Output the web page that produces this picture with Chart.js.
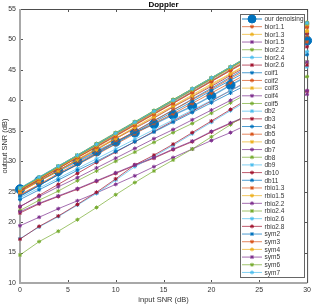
<!DOCTYPE html>
<html>
<head>
<meta charset="utf-8">
<script src="https://cdn.jsdelivr.net/npm/chart.js@4.4.1/dist/chart.umd.min.js"></script>
<style>
  body { margin: 0; background: #ffffff; }
</style>
</head>
<body>
<canvas id="myChart" width="314" height="304"></canvas>
<script>
// valores (SNR de entrada en dB)
const snrEntrada = [0, 2, 4, 6, 8, 10, 12, 14, 16, 18, 20, 22, 24, 26, 28, 30];

const nombres = ["our denoising", "bior1.1", "bior1.3", "bior1.5", "bior2.2", "bior2.4", "bior2.6",
  "coif1", "coif2", "coif3", "coif4", "coif5", "db2", "db3", "db4", "db5", "db6", "db7", "db8",
  "db9", "db10", "db11", "rbio1.3", "rbio1.5", "rbio2.2", "rbio2.4", "rbio2.6", "rbio2.8",
  "sym2", "sym3", "sym4", "sym5", "sym6", "sym7"];

const ourDenoising = [25.4, 26.8, 28.4, 30.0, 31.6, 33.2, 34.7, 36.1, 37.6, 39.0, 40.7, 42.5, 44.2, 46.0, 47.9, 49.8];
const bior11 = [24.4, 26.1, 27.8, 29.4, 31.1, 32.8, 34.5, 36.2, 37.8, 39.5, 41.2, 42.9, 44.6, 46.2, 47.9, 49.6];
const bior13 = [25.0, 26.8, 28.5, 30.3, 32.1, 33.8, 35.6, 37.4, 39.1, 40.9, 42.7, 44.4, 46.2, 48.0, 49.7, 51.5];
const bior15 = [25.2, 27.0, 28.8, 30.6, 32.4, 34.2, 36.0, 37.8, 39.5, 41.3, 43.1, 44.9, 46.7, 48.5, 50.3, 52.1];
const bior22 = [21.9, 23.6, 25.1, 26.8, 28.4, 30.0, 31.5, 33.1, 34.7, 36.2, 37.9, 39.6, 41.3, 42.9, 44.6, 46.3];
const bior24 = [25.3, 27.1, 28.9, 30.7, 32.5, 34.3, 36.1, 37.9, 39.7, 41.5, 43.3, 45.1, 46.9, 48.7, 50.5, 52.3];
const bior26 = [22.5, 24.4, 26.2, 28.0, 29.8, 31.5, 33.2, 34.9, 36.6, 38.2, 39.9, 41.6, 43.3, 45.1, 46.9, 48.8];
const coif1 = [24.2, 26.0, 27.8, 29.5, 31.3, 33.1, 34.9, 36.7, 38.4, 40.2, 42.0, 43.8, 45.6, 47.3, 49.1, 50.9];
const coif2 = [25.4, 27.2, 29.0, 30.8, 32.6, 34.4, 36.2, 38.0, 39.9, 41.7, 43.5, 45.3, 47.1, 48.9, 50.7, 52.5];
const coif3 = [25.5, 27.3, 29.1, 31.0, 32.8, 34.6, 36.4, 38.2, 40.1, 41.9, 43.7, 45.5, 47.3, 49.2, 51.0, 52.8];
const coif4 = [25.5, 27.3, 29.1, 30.9, 32.8, 34.6, 36.4, 38.2, 40.0, 41.8, 43.6, 45.4, 47.3, 49.1, 50.9, 52.7];
const coif5 = [25.6, 27.4, 29.2, 31.0, 32.9, 34.7, 36.5, 38.3, 40.1, 41.9, 43.7, 45.5, 47.4, 49.2, 51.0, 52.8];
const db2 = [24.0, 25.6, 27.2, 28.8, 30.4, 32.0, 33.6, 35.2, 36.8, 38.4, 40.0, 41.6, 43.2, 44.8, 46.4, 48.0];
const db3 = [21.5, 23.0, 24.2, 25.4, 26.7, 28.0, 29.3, 30.5, 31.9, 33.2, 34.8, 36.2, 37.5, 38.9, 40.2, 41.5];
const db4 = [23.7, 25.3, 26.9, 28.5, 30.0, 31.6, 33.2, 34.8, 36.4, 38.0, 39.6, 41.2, 42.8, 44.3, 45.9, 47.5];
const db5 = [25.2, 27.0, 28.8, 30.6, 32.4, 34.2, 36.0, 37.8, 39.6, 41.4, 43.2, 45.0, 46.8, 48.6, 50.4, 52.2];
const db6 = [25.4, 27.2, 29.0, 30.8, 32.7, 34.5, 36.3, 38.1, 39.9, 41.7, 43.5, 45.3, 47.1, 48.9, 50.7, 52.4];
const db7 = [22.6, 24.2, 25.8, 27.3, 28.9, 30.5, 32.1, 33.7, 35.2, 36.8, 38.4, 40.0, 41.6, 43.1, 44.7, 46.3];
const db8 = [25.5, 27.3, 29.2, 31.0, 32.8, 34.6, 36.4, 38.3, 40.1, 41.9, 43.7, 45.5, 47.3, 49.1, 50.9, 52.6];
const db9 = [25.5, 27.3, 29.1, 30.9, 32.7, 34.5, 36.4, 38.2, 40.0, 41.8, 43.6, 45.4, 47.2, 49.0, 50.8, 52.6];
const db10 = [25.0, 26.7, 28.5, 30.2, 31.9, 33.7, 35.4, 37.1, 38.9, 40.6, 42.3, 44.1, 45.8, 47.5, 49.3, 51.0];
const db11 = [25.5, 27.3, 29.1, 30.9, 32.7, 34.5, 36.3, 38.1, 39.9, 41.7, 43.5, 45.4, 47.2, 49.0, 50.8, 52.6];
const rbio13 = [24.5, 26.2, 28.0, 29.7, 31.4, 33.2, 34.9, 36.6, 38.4, 40.1, 41.8, 43.6, 45.3, 47.0, 48.8, 50.5];
const rbio15 = [24.9, 26.7, 28.4, 30.2, 31.9, 33.7, 35.5, 37.2, 39.0, 40.7, 42.5, 44.3, 46.0, 47.8, 49.5, 51.3];
const rbio22 = [19.4, 20.8, 22.2, 23.5, 24.8, 26.2, 27.6, 29.1, 30.6, 32.0, 33.4, 34.7, 36.2, 37.8, 39.4, 41.0];
const rbio24 = [14.6, 16.8, 18.5, 20.4, 22.4, 24.5, 26.5, 28.4, 30.2, 32.0, 34.0, 36.0, 38.0, 40.0, 42.0, 43.9];
const rbio26 = [17.3, 19.2, 20.9, 22.8, 24.7, 26.9, 29.1, 30.8, 32.6, 34.5, 36.4, 38.3, 40.1, 41.9, 43.7, 45.5];
const rbio28 = [17.2, 19.3, 21.0, 22.9, 24.9, 27.1, 29.4, 31.0, 32.8, 34.7, 36.6, 38.5, 40.4, 42.3, 44.1, 45.8];
const sym2 = [24.3, 26.0, 27.8, 29.5, 31.2, 32.9, 34.7, 36.4, 38.1, 39.8, 41.6, 43.3, 45.0, 46.7, 48.5, 50.2];
const sym3 = [25.2, 27.0, 28.8, 30.6, 32.3, 34.1, 35.9, 37.7, 39.5, 41.3, 43.1, 44.9, 46.6, 48.4, 50.2, 52.0];
const sym4 = [25.4, 27.2, 29.0, 30.8, 32.6, 34.4, 36.2, 38.0, 39.9, 41.7, 43.5, 45.3, 47.1, 48.9, 50.7, 52.5];
const sym5 = [21.7, 23.1, 24.3, 25.5, 26.8, 28.1, 29.4, 30.6, 32.0, 33.3, 34.9, 36.3, 37.6, 39.0, 40.3, 41.6];
const sym6 = [25.5, 27.3, 29.1, 30.9, 32.7, 34.6, 36.4, 38.2, 40.0, 41.8, 43.6, 45.4, 47.2, 49.0, 50.8, 52.6];
const sym7 = [25.6, 27.4, 29.2, 31.0, 32.8, 34.6, 36.4, 38.2, 40.0, 41.9, 43.7, 45.5, 47.3, 49.1, 50.9, 52.7];

const series = [ourDenoising, bior11, bior13, bior15, bior22, bior24, bior26, coif1, coif2, coif3,
  coif4, coif5, db2, db3, db4, db5, db6, db7, db8, db9, db10, db11, rbio13, rbio15, rbio22,
  rbio24, rbio26, rbio28, sym2, sym3, sym4, sym5, sym6, sym7];

// colores por defecto de matlab
const colores = ["0,114,189", "217,83,25", "237,177,32", "126,47,142", "119,172,48", "77,190,238", "162,20,47"];

const fuente = "'Liberation Sans', Arial, sans-serif";
const colorTexto = "#333333";

const datasets = nombres.map((nombre, i) => {
  const rgb = colores[i % colores.length];
  const esNuestro = i === 0;
  return {
    label: nombre,
    data: series[i].map((valor, k) => ({ x: snrEntrada[k], y: valor })),
    borderColor: esNuestro ? `rgba(${rgb},0.6)` : `rgba(${rgb},0.7)`,
    backgroundColor: `rgb(${rgb})`,
    pointBorderColor: `rgb(${rgb})`,
    pointBackgroundColor: `rgb(${rgb})`,
    borderWidth: esNuestro ? 1.5 : 1,
    pointStyle: esNuestro ? "circle" : "star",
    pointRadius: esNuestro ? 4.5 : 2,
    pointBorderWidth: 1,
    tension: 0,
    clip: false,
    // como en matlab: las ultimas series quedan encima
    order: nombres.length - i
  };
});

//plugin que dibuja el marco, los ticks, el titulo y la leyenda
const marcoPlugin = {
  id: "marco",
  beforeDatasetsDraw(chart) {
    const ctx = chart.ctx;
    const a = chart.chartArea;
    const escalaX = chart.scales.x;
    const escalaY = chart.scales.y;
    ctx.save();
    ctx.strokeStyle = "#555555";
    ctx.lineWidth = 1;
    ctx.beginPath();
    escalaX.ticks.forEach((t) => {
      const px = Math.round(escalaX.getPixelForValue(t.value)) + 0.5;
      ctx.moveTo(px, a.bottom);
      ctx.lineTo(px, a.bottom - 3);
      ctx.moveTo(px, a.top);
      ctx.lineTo(px, a.top + 3);
    });
    escalaY.ticks.forEach((t) => {
      const py = Math.round(escalaY.getPixelForValue(t.value)) + 0.5;
      ctx.moveTo(a.left, py);
      ctx.lineTo(a.left + 3, py);
      ctx.moveTo(a.right, py);
      ctx.lineTo(a.right - 3, py);
    });
    ctx.stroke();
    ctx.strokeStyle = "#4d4d4d";
    ctx.beginPath();
    ctx.moveTo(a.left, a.top + 0.5);
    ctx.lineTo(a.right, a.top + 0.5);
    ctx.moveTo(a.right + 0.5, a.top);
    ctx.lineTo(a.right + 0.5, a.bottom);
    ctx.stroke();
    ctx.strokeStyle = "#a8a8a8";
    ctx.lineWidth = 2;
    ctx.beginPath();
    ctx.moveTo(a.left, a.top);
    ctx.lineTo(a.left, a.bottom);
    ctx.lineTo(a.right, a.bottom);
    ctx.stroke();
    ctx.restore();
  },
  afterDraw(chart) {
    const ctx = chart.ctx;
    const a = chart.chartArea;
    ctx.save();
    // titulo
    ctx.fillStyle = "#000000";
    ctx.font = `bold 8px ${fuente}`;
    ctx.textAlign = "center";
    ctx.textBaseline = "middle";
    ctx.fillText("Doppler", (a.left + a.right) / 2, 4.5);

    // leyenda
    const caja = { x: 240, y: 14, w: 64, h: 263 };
    ctx.fillStyle = "#ffffff";
    ctx.fillRect(caja.x, caja.y, caja.w, caja.h);
    ctx.strokeStyle = "#666666";
    ctx.lineWidth = 1;
    ctx.strokeRect(caja.x + 0.5, caja.y + 0.5, caja.w, caja.h);
    ctx.font = `6.5px ${fuente}`;
    ctx.textAlign = "left";
    chart.data.datasets.forEach((ds, i) => {
      const fy = 19 + i * 7.68;
      ctx.strokeStyle = ds.borderColor;
      ctx.lineWidth = ds.borderWidth;
      ctx.beginPath();
      ctx.moveTo(242, fy);
      ctx.lineTo(262, fy);
      ctx.stroke();
      ctx.strokeStyle = ds.pointBorderColor;
      ctx.fillStyle = ds.pointBackgroundColor;
      ctx.lineWidth = 1;
      Chart.helpers.drawPoint(ctx, { pointStyle: ds.pointStyle, radius: i === 0 ? 4 : 2, rotation: 0, borderWidth: 1 }, 252, fy);
      ctx.fillStyle = colorTexto;
      ctx.fillText(ds.label, 264.5, fy + 0.5);
    });
    ctx.restore();
  }
};

const config = {
  type: "line",
  data: { datasets },
  options: {
    responsive: false,
    animation: false,
    devicePixelRatio: 1,
    layout: { padding: { top: 9, right: 6, left: 0, bottom: 0 } },
    plugins: {
      legend: { display: false },
      title: { display: false },
      tooltip: { enabled: false }
    },
    scales: {
      x: {
        type: "linear",
        min: 0,
        max: 30,
        grid: { display: false, drawTicks: false },
        border: { display: false },
        ticks: { stepSize: 5, padding: 3, color: colorTexto, font: { family: fuente, size: 7 }, maxRotation: 0 },
        title: { display: true, text: "input SNR (dB)", color: colorTexto, font: { family: fuente, size: 7.5 }, padding: 0 },
        afterFit: (escala) => { escala.height = 21; }
      },
      y: {
        type: "linear",
        min: 10,
        max: 55,
        grid: { display: false, drawTicks: false },
        border: { display: false },
        ticks: { stepSize: 5, padding: 4, color: colorTexto, font: { family: fuente, size: 7 } },
        title: { display: true, text: "output SNR (dB)", color: colorTexto, font: { family: fuente, size: 7.5 }, padding: 0 },
        afterFit: (escala) => { escala.width = 20; }
      }
    }
  },
  plugins: [marcoPlugin]
};

const myChart = document.getElementById("myChart");
new Chart(myChart, config);
</script>
</body>
</html>
